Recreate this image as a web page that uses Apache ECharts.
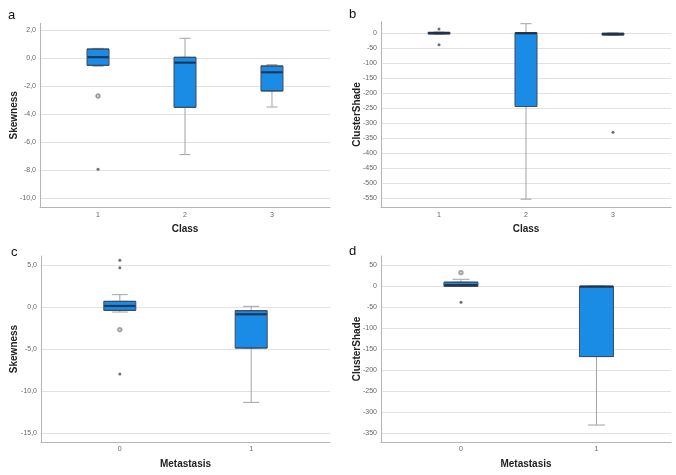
<!DOCTYPE html>
<html>
<head>
<meta charset="utf-8">
<script src="https://cdn.jsdelivr.net/npm/echarts@6/dist/echarts.min.js"></script>
<style>
  html, body { margin: 0; padding: 0; background: #fff; }
  #chart { width: 676px; height: 475px; }
</style>
</head>
<body>
<div id="chart"></div>
<script>
// ---------- data ----------
// each box: [min whisker, Q1, median, Q3, max whisker]
const classCategories = [1, 2, 3];
const metaCategories = [0, 1];

const skewByClass = [
  [-0.57, -0.50, 0.08, 0.66, 0.71],
  [-6.88, -3.50, -0.31, 0.07, 1.43],
  [-3.48, -2.33, -1.00, -0.55, -0.45]
];
const skewByClassOutliers = [[1, -2.69]];
const skewByClassExtremes = [[1, -7.93]];

const shadeByClass = [
  [-4, -3, 0, 2, 3],
  [-554, -245, -1, 1, 31],
  [-8, -6.5, -3.3, -1, 0]
];
const shadeByClassOutliers = [];
const shadeByClassExtremes = [[1, 13.3], [1, -39], [3, -331]];

const skewByMeta = [
  [-0.60, -0.40, 0.12, 0.67, 1.47],
  [-11.35, -4.88, -0.87, -0.44, 0.08]
];
const skewByMetaOutliers = [[0, -2.7]];
const skewByMetaExtremes = [[0, 5.56], [0, 4.68], [0, -7.98]];

const shadeByMeta = [
  [-1, -0.8, 2.4, 9.0, 16],
  [-331, -168, -1.6, -0.8, 0]
];
const shadeByMetaOutliers = [[0, 31.7]];
const shadeByMetaExtremes = [[0, -38.8]];

const panelLetters = ['a', 'b', 'c', 'd'];
const yNames = ['Skewness', 'ClusterShade', 'Skewness', 'ClusterShade'];
const xNames = ['Class', 'Class', 'Metastasis', 'Metastasis'];

// ---------- styling / layout ----------
const BOX_FILL = '#1a8ce6';
const BOX_BORDER = '#3d4b5c';
const MEDIAN = '#1c2b45';
const WHISKER = '#a3a3a3';
const GRIDLINE = '#e2e2e2';
const AXISLINE = '#b5b5b5';
const LABEL = '#666';
const FONT = 'Liberation Sans, Arial, sans-serif';

const commaFmt = v => v.toFixed(1).replace('.', ',');
const intFmt = v => String(Math.round(v));

const panels = [
  { cats: classCategories, boxes: skewByClass, out: skewByClassOutliers, ext: skewByClassExtremes,
    grid: { left: 40, top: 23.3, width: 290, height: 184.1 }, x: [0.333, 3.667],
    y: [-10.65, 2.5], yStep: 2, fmt: commaFmt, bw: 22, yGap: 21 },
  { cats: classCategories, boxes: shadeByClass, out: shadeByClassOutliers, ext: shadeByClassExtremes,
    grid: { left: 381, top: 21.6, width: 290, height: 185.7 }, x: [0.333, 3.667],
    y: [-581, 38], yStep: 50, fmt: intFmt, bw: 22, yGap: 19 },
  { cats: metaCategories, boxes: skewByMeta, out: skewByMetaOutliers, ext: skewByMetaExtremes,
    grid: { left: 41, top: 256, width: 289, height: 186 }, x: [-0.6, 1.6],
    y: [-16.07, 6.07], yStep: 5, fmt: commaFmt, bw: 32, yGap: 22 },
  { cats: metaCategories, boxes: shadeByMeta, out: shadeByMetaOutliers, ext: shadeByMetaExtremes,
    grid: { left: 381, top: 256, width: 290, height: 186 }, x: [-0.59, 1.55],
    y: [-371.4, 71.4], yStep: 50, fmt: intFmt, bw: 34, yGap: 19 }
];

const option = {
  animation: false,
  backgroundColor: '#fff',
  textStyle: { fontFamily: FONT },
  grid: [], xAxis: [], yAxis: [], series: [],
  graphic: []
};

const letterPos = [[8, 9], [349, 8], [11, 246], [349, 245]];

panels.forEach((p, i) => {
  option.grid.push(p.grid);
  const xMain = option.xAxis.length;
  // visible x axis
  option.xAxis.push({
    type: 'value', gridIndex: i, min: p.x[0], max: p.x[1],
    minInterval: 1, maxInterval: 1,
    name: xNames[i], nameLocation: 'middle', nameGap: 17, nameMoveOverlap: false,
    nameTextStyle: { fontFamily: FONT, fontWeight: 'bold', fontSize: 10, color: '#222' },
    axisLine: { show: true, onZero: false, lineStyle: { color: AXISLINE, width: 1 } },
    axisTick: { show: false },
    splitLine: { show: false },
    axisLabel: { showMinLabel: false, showMaxLabel: false, margin: 4,
      fontSize: 7, color: LABEL, fontFamily: FONT,
      formatter: v => (p.cats.indexOf(Math.round(v)) >= 0 && Math.abs(v - Math.round(v)) < 1e-6) ? String(Math.round(v)) : '' }
  });
  // hidden twin x axis for the box overlay
  const xTwin = option.xAxis.length;
  option.xAxis.push({
    type: 'value', gridIndex: i, min: p.x[0], max: p.x[1], show: false,
    axisLine: { onZero: false },
    splitLine: { show: false }
  });
  const yIdx = option.yAxis.length;
  option.yAxis.push({
    type: 'value', gridIndex: i, min: p.y[0], max: p.y[1],
    minInterval: p.yStep, maxInterval: p.yStep,
    name: yNames[i], nameLocation: 'middle', nameGap: p.yGap, nameRotate: 90, nameMoveOverlap: false,
    nameTextStyle: { fontFamily: FONT, fontWeight: 'bold', fontSize: 10, color: '#222' },
    axisLine: { show: true, onZero: false, lineStyle: { color: AXISLINE, width: 1 } },
    axisTick: { show: false },
    splitLine: { show: true, showMinLine: false, showMaxLine: false, lineStyle: { color: GRIDLINE, width: 1 } },
    axisLabel: { showMinLabel: false, showMaxLabel: false, margin: 4,
      fontSize: 7, color: LABEL, fontFamily: FONT, formatter: p.fmt }
  });

  // whiskers (gray)
  option.series.push({
    type: 'boxplot', xAxisIndex: xMain, yAxisIndex: yIdx,
    boxWidth: [p.bw / 2, p.bw / 2],
    itemStyle: { color: BOX_FILL, borderColor: WHISKER, borderWidth: 1 },
    emphasis: { disabled: true },
    data: p.boxes.map((b, k) => [p.cats[k]].concat(b)),
    z: 2
  });
  // box body (Q1..Q3)
  option.series.push({
    type: 'boxplot', xAxisIndex: xTwin, yAxisIndex: yIdx,
    boxWidth: [p.bw, p.bw],
    itemStyle: { color: BOX_FILL, borderColor: BOX_BORDER, borderWidth: 1 },
    emphasis: { disabled: true },
    data: p.boxes.map((b, k) => [p.cats[k], b[1], b[1], b[2], b[3], b[3]]),
    z: 3
  });
  // median line
  option.series.push({
    type: 'scatter', xAxisIndex: xMain, yAxisIndex: yIdx,
    symbol: 'rect', symbolSize: [p.bw - 1, 2.2],
    itemStyle: { color: MEDIAN },
    emphasis: { disabled: true },
    data: p.boxes.map((b, k) => [p.cats[k], b[2]]),
    z: 4
  });
  // outliers (open circles)
  option.series.push({
    type: 'scatter', xAxisIndex: xMain, yAxisIndex: yIdx,
    symbol: 'emptyCircle', symbolSize: 3.5,
    itemStyle: { color: '#8a8a8a', borderColor: '#8a8a8a', borderWidth: 1.2 },
    emphasis: { disabled: true },
    data: p.out, z: 5
  });
  // extremes (asterisks)
  option.series.push({
    type: 'scatter', xAxisIndex: xMain, yAxisIndex: yIdx,
    symbol: 'circle', symbolSize: 3,
    itemStyle: { color: '#4a4a4a' },
    emphasis: { disabled: true },
    data: p.ext, z: 5
  });

  option.graphic.push({
    type: 'text', left: letterPos[i][0], top: letterPos[i][1],
    style: { text: panelLetters[i], font: '13px ' + FONT, fill: '#111' }
  });
});

const chart = echarts.init(document.getElementById('chart'), null, { renderer: 'canvas' });
chart.setOption(option);
</script>
</body>
</html>
